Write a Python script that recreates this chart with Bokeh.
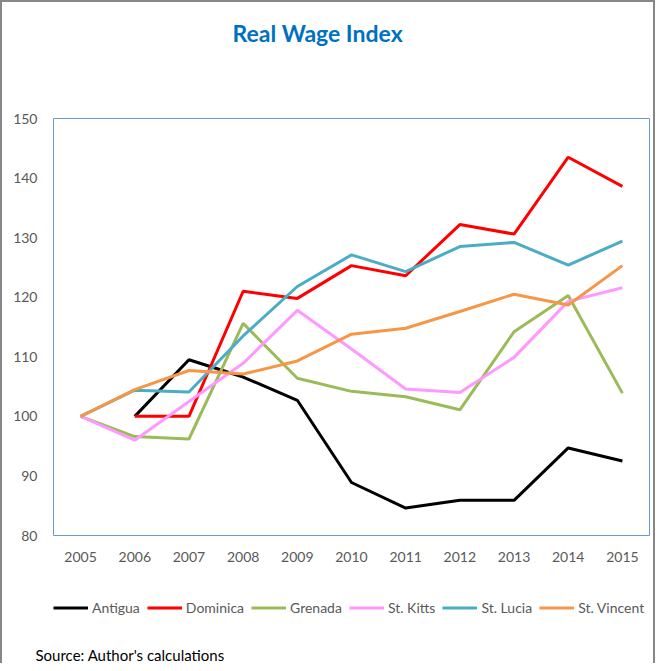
from bokeh.plotting import figure
from bokeh.layouts import column
from bokeh.models import (FactorRange, Range1d, Legend, LegendItem, Title,
                          ColumnDataSource)
from bokeh.embed import file_html
from bokeh.resources import INLINE

# ---- data ----
years = [str(y) for y in range(2005, 2016)]
years_from_2006 = years[1:]
y_ticks = [80, 90, 100, 110, 120, 130, 140, 150]

antigua = [100, 109.5, 106.6, 102.7, 88.9, 84.6, 85.9, 85.9, 94.7, 92.5]
dominica = [100, 100, 121.0, 119.8, 125.3, 123.6, 132.2, 130.6, 143.5, 138.6]
grenada = [100, 96.6, 96.2, 115.6, 106.4, 104.2, 103.3, 101.1, 114.2, 120.3, 103.9]
st_kitts = [100, 96.0, 102.5, 108.9, 117.8, 111.3, 104.6, 104.0, 109.9, 119.3, 121.6]
st_lucia = [100, 104.4, 104.1, 113.5, 121.8, 127.1, 124.3, 128.5, 129.2, 125.4, 129.4]
st_vincent = [100, 104.5, 107.7, 107.1, 109.3, 113.8, 114.8, 117.6, 120.5, 118.7, 125.3]

series_names = ["Antigua", "Dominica", "Grenada", "St. Kitts", "St. Lucia", "St. Vincent"]
series_x = [years_from_2006, years_from_2006, years, years, years, years]
series_y = [antigua, dominica, grenada, st_kitts, st_lucia, st_vincent]
series_colors = ["#000000", "#FF0000", "#9BBB59", "#FF99FF", "#4BACC6", "#F79646"]

FONT = "Lato"
GRAY = "#595959"
FRAME = "2px solid #878787"

W = 655
H1, H2 = 575, 88
ML, MR, MT, MB = 51, 8, 116, 42

x_range = FactorRange(*years)

# ---- main chart ----
p = figure(
    x_range=x_range,
    y_range=Range1d(80, 150),
    width=W, height=H1,
    output_backend="svg", toolbar_location=None,
    min_border_left=ML, min_border_right=MR,
    min_border_top=MT, min_border_bottom=MB,
)
p.title = None
p.styles = {"border-top": FRAME, "border-left": FRAME, "border-right": FRAME}

p.xgrid.visible = False
p.ygrid.visible = False
p.outline_line_color = "#6A9AD6"
p.outline_line_width = 1

for ax in (p.xaxis[0], p.yaxis[0]):
    ax.axis_line_color = None
    ax.major_tick_line_color = None
    ax.minor_tick_line_color = None
    ax.major_tick_out = 0
    ax.major_tick_in = 0
    ax.minor_tick_out = 0
    ax.minor_tick_in = 0
    ax.major_label_text_font = FONT
    ax.major_label_text_font_size = "14px"
    ax.major_label_text_color = GRAY
p.yaxis[0].ticker = y_ticks
p.yaxis[0].major_label_standoff = 16
p.xaxis[0].major_label_standoff = 16

for name, xs, ys, color in zip(series_names, series_x, series_y, series_colors):
    src = ColumnDataSource(dict(x=xs, y=ys))
    p.line("x", "y", source=src, line_color=color, line_width=3)

# titles above: a blank spacer nearest the frame, then the chart title
p.add_layout(Title(text=" ", text_font_size="10px", standoff=58), "above")
p.add_layout(Title(text="Real Wage Index", align="left", offset=179, standoff=2,
                   text_font=FONT, text_font_size="23px", text_font_style="bold",
                   text_color="#0070C0"), "above")

# ---- legend + source strip (legend keys reference the same series,
#      plotted against a y range that keeps them out of view) ----
q = figure(
    x_range=x_range, y_range=Range1d(0, 1),
    width=W, height=H2,
    output_backend="svg", toolbar_location=None,
    x_axis_type=None, y_axis_type=None,
    min_border_left=0, min_border_right=0, min_border_top=0, min_border_bottom=0,
)
q.title = None
q.outline_line_color = None
q.xgrid.visible = False
q.ygrid.visible = False
q.styles = {"border-left": FRAME, "border-right": FRAME}

items = []
for name, xs, ys, color in zip(series_names, series_x, series_y, series_colors):
    src = ColumnDataSource(dict(x=xs, y=ys))
    r = q.line("x", "y", source=src, line_color=color, line_width=3)
    items.append(LegendItem(label=name, renderers=[r]))

legend = Legend(items=items, orientation="horizontal", location=(0, 27),
                glyph_width=35, glyph_height=17, label_height=17,
                label_standoff=4, spacing=7,
                padding=0, margin=0, border_line_color=None,
                background_fill_alpha=0,
                label_text_font=FONT, label_text_font_size="14px",
                label_text_color=GRAY)
q.add_layout(legend, "center")

q.add_layout(Title(text="Source: Author's calculations", align="left", offset=-18,
                   standoff=0, text_font=FONT, text_font_size="15px",
                   text_font_style="normal", text_color="#000000"), "below")

layout = column(p, q, spacing=0)
open("out.html", "w").write(file_html(layout, INLINE))
